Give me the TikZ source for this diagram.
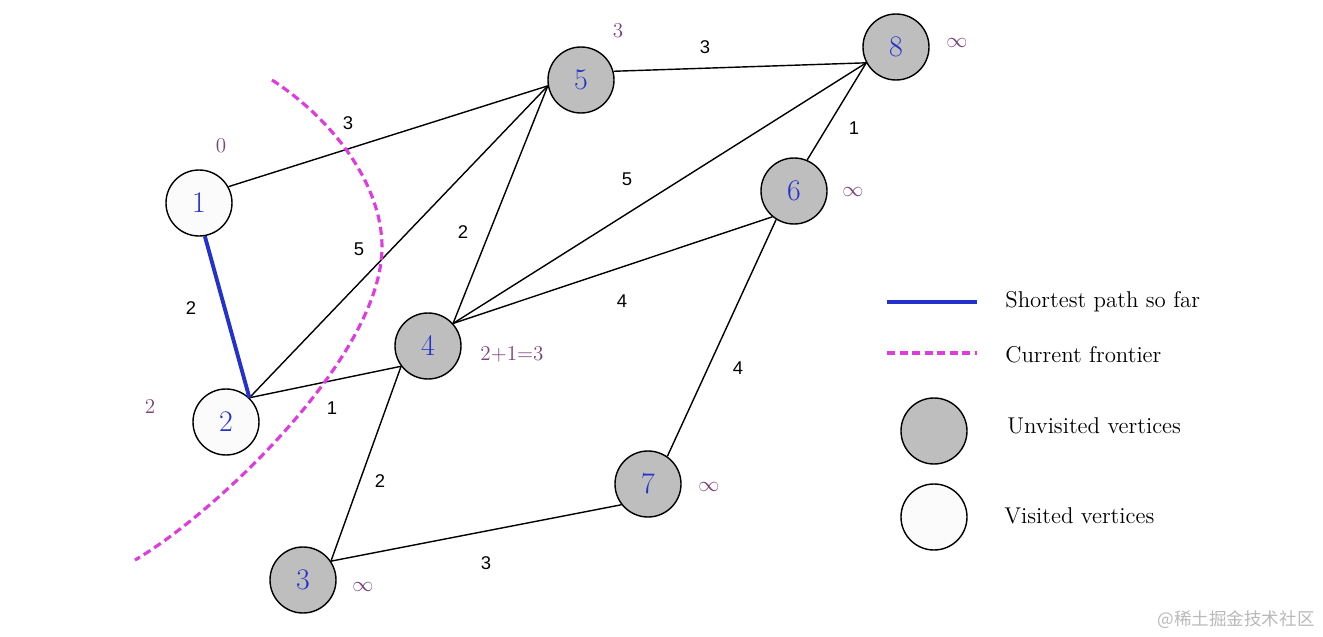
\documentclass[tikz,border=0pt]{standalone}
\usepackage{fontspec}
\newfontfamily\wfont{Liberation Sans}
\newfontfamily\cjk{Noto Sans CJK SC}
\definecolor{vblue}{RGB}{35, 50, 205}
\definecolor{vgray}{RGB}{190, 190, 190}
\definecolor{vwhite}{RGB}{251, 251, 251}
\definecolor{dpurple}{RGB}{125, 65, 125}
\definecolor{fmagenta}{RGB}{222, 60, 222}
\definecolor{wmgray}{RGB}{185, 185, 185}
\usepackage{tikz}
\usetikzlibrary{positioning, calc}

\begin{document}
\begin{tikzpicture}[
	vertex/.style={circle, draw, line width=0.8pt, minimum size=1.32cm, inner sep=0pt,
		text=vblue, font=\fontsize{17}{20}\selectfont},
	unvisited/.style={vertex, fill=vgray},
	visited/.style={vertex, fill=vwhite},
	edge/.style={line width=0.8pt},
	weight/.style={font=\wfont\fontsize{10.5}{12}\selectfont},
	dist/.style={text=dpurple, font=\fontsize{12}{14}\selectfont},
	legendtext/.style={anchor=west, inner sep=0pt, font=\fontsize{13}{15}\selectfont},
	frontier/.style={draw=fmagenta, line width=1.8pt, dash pattern=on 0.16cm off 0.09cm},
	spath/.style={draw=vblue, line width=2.2pt}
	]
	\useasboundingbox (0,0) rectangle (26.46,12.72);
	
	% vertices
	\node[visited] (n1) at (3.98, 8.66) {1};
	\node[visited] (n2) at (4.52, 4.28) {2};
	\node[unvisited] (n3) at (6.06, 1.12) {3};
	\node[unvisited] (n4) at (8.56, 5.80) {4};
	\node[unvisited] (n5) at (11.62, 11.12) {5};
	\node[unvisited] (n6) at (15.88, 8.90) {6};
	\node[unvisited] (n7) at (12.96, 3.04) {7};
	\node[unvisited] (n8) at (17.92, 11.78) {8};
	
	% edges
	\draw[edge] (n1.29) -- (n5.190);
	\draw[edge] (n2.46) -- (n5.190);
	\draw[edge] (n2.46) -- (n4.217);
	\draw[edge] (n4.42) -- (n5.190);
	\draw[edge] (n4.42) -- (n8.208);
	\draw[edge] (n4.42) -- (n6.230);
	\draw[edge] (n4.217) -- (n3.34);
	\draw[edge] (n3.34) -- (n7.218);
	\draw[edge] (n7.55) -- (n6.238);
	\draw[edge] (n6.67) -- (n8.208);
	\draw[edge] (n5.15) -- (n8.208);
	\draw[spath] (n1.280) -- (n2.46);
	
	% weights
	\node[weight] (w15) at (6.96, 10.26) {3};
	\node[weight] (w58) at (14.10, 11.78) {3};
	\node[weight] (w68) at (17.08, 10.16) {1};
	\node[weight] (w48) at (12.54, 9.14) {5};
	\node[weight] (w45) at (9.26, 8.08) {2};
	\node[weight] (w25) at (7.18, 7.74) {5};
	\node[weight] (w12) at (3.82, 6.56) {2};
	\node[weight] (w46) at (12.44, 6.70) {4};
	\node[weight] (w24) at (6.64, 4.56) {1};
	\node[weight] (w76) at (14.76, 5.36) {4};
	\node[weight] (w43) at (7.60, 3.10) {2};
	\node[weight] (w37) at (9.72, 1.46) {3};
	
	% distances
	\node[dist] (d1) at (4.42, 9.80) {0};
	\node[dist] (d2) at (3.00, 4.60) {2};
	\node[dist] (d5) at (12.36, 12.10) {3};
	\node[dist] (d8) at (19.14, 11.86) {$\infty$};
	\node[dist] (d6) at (17.06, 8.88) {$\infty$};
	\node[dist] (d4) at (10.24, 5.64) {2+1=3};
	\node[dist] (d7) at (14.18, 2.98) {$\infty$};
	\node[dist] (d3) at (7.26, 0.98) {$\infty$};
	
	% frontier
	\draw[frontier] (5.44,11.12) .. controls (6.7,10.3) and (7.64,9.0) .. (7.64,7.78)
		.. controls (7.64,5.6) and (4.3,2.45) .. (2.70,1.52);
	
	% legend
	\coordinate (lsA) at (17.74, 6.68);
	\coordinate (lsB) at (19.54, 6.68);
	\coordinate (lfA) at (17.74, 5.66);
	\coordinate (lfB) at (19.54, 5.66);
	\draw[spath, line width=1.8pt] (lsA) -- (lsB);
	\draw[frontier] (lfA) -- (lfB);
	\node[legendtext] (ls) at (20.10, 6.68) {Shortest path so far};
	\node[legendtext] (lf) at (20.10, 5.62) {Current frontier};
	\node[unvisited] (lu) at (18.68, 4.10) {};
	\node[legendtext] (lut) at (20.14, 4.20) {Unvisited vertices};
	\node[visited] (lv) at (18.68, 2.38) {};
	\node[legendtext] (lvt) at (20.08, 2.40) {Visited vertices};
	
	\node[anchor=east, inner sep=0pt, text=wmgray, font=\cjk\fontsize{10}{12}\selectfont] (wm) at (26.30, 0.32) {@稀土掘金技术社区};
\end{tikzpicture}
\end{document}
